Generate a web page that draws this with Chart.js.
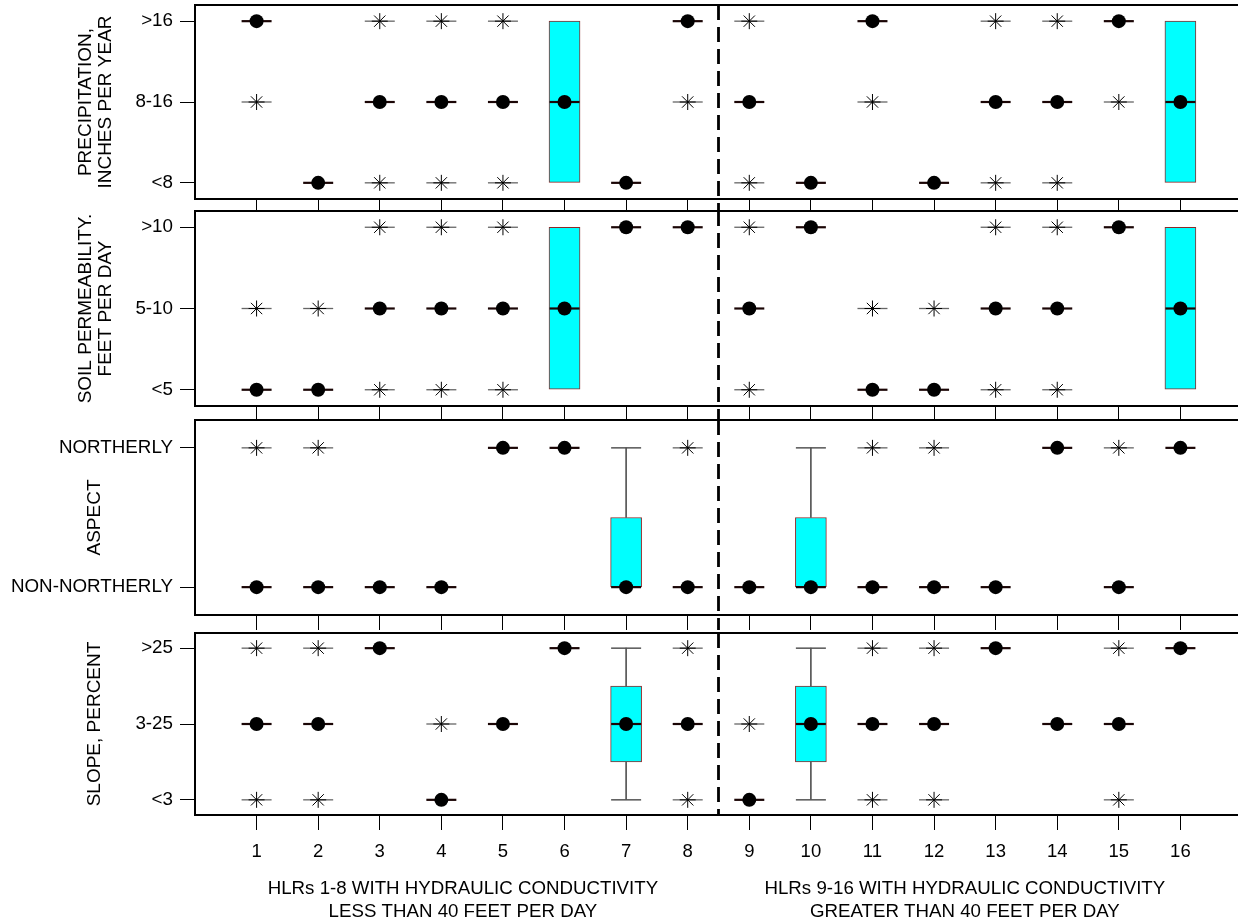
<!DOCTYPE html>
<html>
<head>
<meta charset="utf-8">
<script src="https://cdn.jsdelivr.net/npm/chart.js@4.4.1/dist/chart.umd.min.js"></script>
<style>
  html, body { margin: 0; padding: 0; background: #fff; overflow: hidden; }
  #wrap { position: relative; width: 1238px; height: 923px; overflow: hidden; }
  canvas { position: absolute; left: 0; }
</style>
</head>
<body>
<div id="wrap">
  <canvas id="c1" width="1242" height="211" style="top:0px"></canvas>
  <canvas id="c2" width="1242" height="220" style="top:200px"></canvas>
  <canvas id="c3" width="1242" height="220" style="top:410px"></canvas>
  <canvas id="c4" width="1242" height="300" style="top:623px"></canvas>
</div>
<script>
'use strict';

var hlrs = [1, 2, 3, 4, 5, 6, 7, 8, 9, 10, 11, 12, 13, 14, 15, 16];

/* precipitation */
var precipLabels = ['<8', '8-16', '>16'];
var precipDots = [2, 0, 1, 1, 1, 1, 0, 2, 1, 0, 2, 0, 1, 1, 2, 1];
var precipStars = [[1,1],[3,2],[3,0],[4,2],[4,0],[5,2],[5,0],[8,1],[9,2],[9,0],[11,1],[13,2],[13,0],[14,2],[14,0],[15,1]];
var precipBoxes = [[6, 0, 0, 2, 2], [16, 0, 0, 2, 2]]; // hlr, low, q1, q3, high

/* soil permeability */
var soilLabels = ['<5', '5-10', '>10'];
var soilDots = [0, 0, 1, 1, 1, 1, 2, 2, 1, 2, 0, 0, 1, 1, 2, 1];
var soilStars = [[1,1],[2,1],[3,2],[3,0],[4,2],[4,0],[5,2],[5,0],[9,2],[9,0],[11,1],[12,1],[13,2],[13,0],[14,2],[14,0]];
var soilBoxes = [[6, 0, 0, 2, 2], [16, 0, 0, 2, 2]];

/* aspect */
var aspectLabels = ['NON-NORTHERLY', 'NORTHERLY'];
var aspectDots = [0, 0, 0, 0, 1, 1, 0, 0, 0, 0, 0, 0, 0, 1, 0, 1];
var aspectStars = [[1,1],[2,1],[8,1],[11,1],[12,1],[15,1]];
var aspectBoxes = [[7, 0, 0, 0.5, 1], [10, 0, 0, 0.5, 1]];

/* slope */
var slopeLabels = ['<3', '3-25', '>25'];
var slopeDots = [1, 1, 2, 0, 1, 2, 1, 1, 0, 1, 1, 1, 2, 1, 1, 2];
var slopeStars = [[1,2],[1,0],[2,2],[2,0],[4,1],[8,2],[8,0],[9,1],[11,2],[11,0],[12,2],[12,0],[15,2],[15,0]];
var slopeBoxes = [[7, 0, 0.5, 1.5, 2], [10, 0, 0.5, 1.5, 2]];

var groupLabels = [
  ['HLRs 1-8 WITH HYDRAULIC CONDUCTIVITY', 'LESS THAN 40 FEET PER DAY'],
  ['HLRs 9-16 WITH HYDRAULIC CONDUCTIVITY', 'GREATER THAN 40 FEET PER DAY']
];

var FONT = "'Liberation Sans', Arial, Helvetica, sans-serif";

function buildDatasets(dots, stars, boxes) {
  var dotPts = dots.map(function(v, i) { return {x: hlrs[i], y: v}; });
  var starPts = stars.map(function(s) { return {x: s[0], y: s[1]}; });
  var boxBars = boxes.map(function(b) { return {x: b[0], y: [b[2], b[3]]}; });
  var whisk = [], caps = [];
  boxes.forEach(function(b) {
    if (b[1] < b[2]) { whisk.push({x: b[0], y: [b[1], b[2]]}); caps.push({x: b[0], y: b[1]}); }
    if (b[4] > b[3]) { whisk.push({x: b[0], y: [b[3], b[4]]}); caps.push({x: b[0], y: b[4]}); }
  });
  return [
    {type: 'bar', data: boxBars, backgroundColor: '#00ffff', borderColor: '#8b2a2a', borderWidth: 1,
     borderSkipped: false, barThickness: 31, grouped: false, order: 6},
    {type: 'bar', data: whisk, backgroundColor: '#555', borderWidth: 0, barThickness: 1, grouped: false, order: 5},
    {type: 'scatter', data: caps, showLine: false, pointStyle: 'line', pointRadius: 15,
     pointBorderColor: '#555', pointBorderWidth: 1.5, order: 4},
    {type: 'scatter', data: starPts, showLine: false, pointStyle: 'line', pointRadius: 15,
     pointBorderColor: '#666', pointBorderWidth: 1.3, order: 3},
    {type: 'scatter', data: starPts, showLine: false, pointStyle: 'star', pointRadius: 8,
     pointBorderColor: '#000', pointBorderWidth: 1, order: 2},
    {type: 'scatter', data: dotPts, showLine: false, pointStyle: 'line', pointRadius: 15,
     pointBorderColor: '#1a0505', pointBorderWidth: 2.2, order: 1},
    {type: 'scatter', data: dotPts, showLine: false, pointStyle: 'circle', pointRadius: 7,
     pointBackgroundColor: '#000', pointBorderColor: '#000', pointBorderWidth: 0, order: 0}
  ];
}

/* box + dashed divider */
var framePlugin = {
  id: 'frame',
  afterDatasetsDraw: function(chart, args, opts) {
    var ctx = chart.ctx, a = chart.chartArea;
    var px = chart.scales.x.getPixelForValue(8.5);
    ctx.save();
    ctx.strokeStyle = '#000';
    ctx.lineWidth = 2;
    ctx.strokeRect(a.left, a.top, a.right - a.left, a.bottom - a.top);
    ctx.setLineDash([15, 7]);
    ctx.lineWidth = 2.8;
    ctx.beginPath();
    ctx.moveTo(px, a.top);
    ctx.lineTo(px, opts.extend ? chart.height : a.bottom);
    ctx.stroke();
    ctx.restore();
  }
};

function noPad(axis) {
  axis.paddingTop = 0;
  axis.paddingBottom = 0;
  axis.paddingLeft = 0;
  axis.paddingRight = 0;
}

function panel(id, labels, title, titlePad, padTop, xTickLen, isBottom, dots, stars, boxes) {
  var scales = {
    x: {
      type: 'linear', min: 0, max: 17, offset: false,
      grid: {drawOnChartArea: false, drawTicks: true, offset: false, tickLength: xTickLen, color: '#000', lineWidth: 1},
      border: {display: false},
      ticks: {display: isBottom, padding: 11, autoSkip: false, maxRotation: 0, color: '#000',
              font: {family: FONT, size: 18.5}},
      afterBuildTicks: function(axis) { axis.ticks = hlrs.map(function(v) { return {value: v}; }); },
      afterFit: function(axis) { axis.height = isBottom ? 45 : xTickLen; noPad(axis); }
    },
    y: {
      type: 'linear', min: -0.2, max: labels.length - 1 + 0.2,
      grid: {drawOnChartArea: false, offset: false, tickLength: 15, color: '#000', lineWidth: 1},
      border: {display: false},
      ticks: {padding: 7, color: '#000', font: {family: FONT, size: 18.8},
              callback: function(v) { return labels[Math.round(v)]; }},
      afterBuildTicks: function(axis) { axis.ticks = labels.map(function(l, i) { return {value: i}; }); },
      afterFit: function(axis) { axis.width = 195; noPad(axis); },
      title: {display: true, text: title, color: '#000', padding: {top: titlePad, bottom: 0},
              font: {family: FONT, size: 19, lineHeight: 1.05}}
    }
  };
  if (isBottom) {
    scales.x2 = {
      type: 'linear', position: 'bottom', min: 0, max: 17, offset: false,
      grid: {display: false, drawTicks: false},
      border: {display: false},
      ticks: {padding: 18, autoSkip: false, maxRotation: 0, color: '#000',
              font: {family: FONT, size: 18.7, lineHeight: 1.2},
              callback: function(v, i) { return groupLabels[i]; }},
      afterBuildTicks: function(axis) { axis.ticks = [{value: 4.35}, {value: 12.5}]; },
      afterFit: function(axis) { axis.height = 63; noPad(axis); }
    };
  }
  return new Chart(document.getElementById(id), {
    type: 'scatter',
    data: {datasets: buildDatasets(dots, stars, boxes)},
    options: {
      responsive: false,
      animation: false,
      layout: {autoPadding: false, padding: {top: padTop, left: 0, right: 0, bottom: 0}},
      plugins: {legend: {display: false}, tooltip: {enabled: false}, frame: {extend: !isBottom}},
      scales: scales
    },
    plugins: [framePlugin]
  });
}

panel('c1', precipLabels, ['PRECIPITATION,', 'INCHES PER YEAR'], 76, 5, 12, false, precipDots, precipStars, precipBoxes);
panel('c2', soilLabels, ['SOIL PERMEABILITY.', 'FEET PER DAY'], 76, 11, 14, false, soilDots, soilStars, soilBoxes);
panel('c3', aspectLabels, 'ASPECT', 85, 10, 15, false, aspectDots, aspectStars, aspectBoxes);
panel('c4', slopeLabels, 'SLOPE, PERCENT', 85, 10, 15, true, slopeDots, slopeStars, slopeBoxes);
</script>
</body>
</html>
